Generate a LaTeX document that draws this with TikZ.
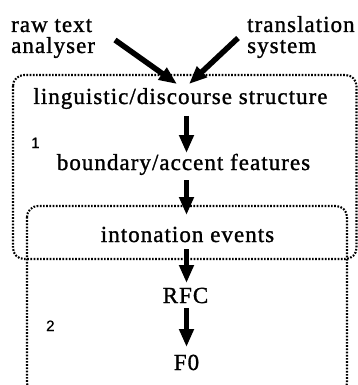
\documentclass[tikz,border=0pt]{standalone}
\usepackage{fontspec}
\setmainfont{Liberation Serif}[LetterSpace=4.5,FakeBold=1.2]
\newfontfamily\labfont{Liberation Sans}[FakeBold=1]
\usetikzlibrary{arrows.meta}
\begin{document}
\begin{tikzpicture}[x=1pt,y=1pt,
  txt/.style={font=\fontsize{23}{21}\selectfont, inner sep=0pt, anchor=base},
  num/.style={font=\labfont\fontsize{15}{15}\selectfont, inner sep=0pt, anchor=base west},
  grp/.style={draw, line width=2.1pt, dash pattern=on 1.7pt off 1.5pt, rounded corners=11pt},
  arr/.style={line width=5.5pt, -{Triangle[length=18pt,width=14pt]}},
]
\useasboundingbox (0,0) rectangle (358,-385);
% groups
\draw[grp] (13,-75) rectangle (356.5,-259);
\begin{scope}
\clip (0,0) rectangle (358,-385);
\draw[grp] (27,-206) rectangle (347,-394);
\end{scope}
% texts
\node[txt, anchor=base west, align=left] (raw) at (11,-53) {raw text\\analyser};
\node[txt, anchor=base west, align=left] (trans) at (247,-53) {translation\\system};
\node[txt] (ling) at (180.5,-104) {linguistic/discourse structure};
\node[txt] (bound) at (183.5,-170) {boundary/accent features};
\node[txt] (inton) at (187.5,-242) {intonation events};
\node[txt] (rfc) at (185.5,-303) {RFC};
\node[txt] (f0) at (186.5,-370) {F0};
\node[num] (lab1) at (31,-148) {1};
\node[num] (lab2) at (46,-331) {2};
% arrow ends
\coordinate (ls) at (115,-40);
\coordinate (le) at (177,-84);
\coordinate (rs) at (238,-38);
\coordinate (re) at (189,-84);
\draw[arr] (ls) -- (le);
\draw[arr] (rs) -- (re);
\draw[arr] ([yshift=-12pt]ling.base -| f0.base) -- ([yshift=17pt]bound.base -| f0.base);
\draw[arr] ([yshift=-10pt]bound.base -| f0.base) -- ([yshift=27pt]inton.base -| f0.base);
\draw[arr] ([yshift=-7pt]inton.base -| f0.base) -- ([yshift=20pt]rfc.base -| f0.base);
\draw[arr] ([yshift=-5pt]rfc.base -| f0.base) -- ([yshift=23pt]f0.base);
\end{tikzpicture}
\end{document}
